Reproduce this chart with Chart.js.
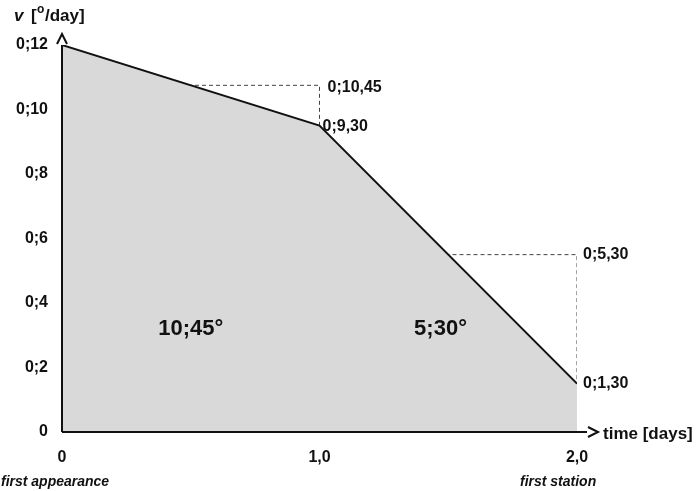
<!DOCTYPE html>
<html><head><meta charset="utf-8">
<script src="https://cdn.jsdelivr.net/npm/chart.js@4"></script>
<style>body{margin:0;background:#fff}</style>
</head><body>
<canvas id="c" width="700" height="491"></canvas>
<script>
const days = [0, 1, 2];
const velocity = [12, 9.5, 1.5];          // minutes of arc per day (0;12, 0;9,30, 0;1,30)
const meanVel = [10.75, 5.5];             // 0;10,45 and 0;5,30
const yTicks = [0, 2, 4, 6, 8, 10, 12];
const xTickLabels = {0: '0', 1: '1,0', 2: '2,0'};
const pointLabels = ['0;10,45', '0;9,30', '0;5,30', '0;1,30'];
const areaLabels = ['10;45°', '5;30°'];

const F = '"Liberation Sans", Arial, sans-serif';
const black = '#111';

const mainLine = days.map((d, i) => ({x: d, y: velocity[i]}));
const dash1 = [{x: days[0], y: meanVel[0]}, {x: days[1], y: meanVel[0]}, {x: days[1], y: velocity[1]}];
const dash2 = [{x: days[1], y: meanVel[1]}, {x: days[2], y: meanVel[1]}, {x: days[2], y: velocity[2]}];
const vert1 = [{x: days[1], y: 0}, {x: days[1], y: velocity[1]}];
const vert2 = [{x: days[2], y: 0}, {x: days[2], y: velocity[2]}];

const deco = {
  id: 'deco',
  afterDraw(chart) {
    const c = chart.ctx, xs = chart.scales.x, ys = chart.scales.y;
    const X = v => xs.getPixelForValue(v), Y = v => ys.getPixelForValue(v);
    c.save();
    c.strokeStyle = black; c.fillStyle = black; c.lineWidth = 2;
    // axis arrows
    const x0 = X(0), y0 = Y(0);
    c.beginPath(); c.moveTo(x0, y0); c.lineTo(x0, Y(12)); c.stroke();
    c.beginPath(); c.moveTo(x0 - 5, 44); c.lineTo(x0, 34); c.lineTo(x0 + 5, 44); c.stroke();
    c.beginPath(); c.moveTo(x0, y0); c.lineTo(X(2) + 10, y0); c.stroke();
    c.beginPath(); c.moveTo(588, y0 - 5); c.lineTo(598, y0); c.lineTo(588, y0 + 5); c.stroke();
    // axis titles
    c.textBaseline = 'alphabetic'; c.textAlign = 'left';
    c.font = 'italic bold 17px ' + F; c.fillText('v', 14, 21);
    c.font = 'bold 17px ' + F; c.fillText('[', 31, 21);
    c.font = 'bold 12px ' + F; c.fillText('o', 37, 13);
    c.font = 'bold 17px ' + F; c.fillText('/day]', 45, 21);
    c.fillText('time [days]', 603, 439);
    // point labels
    c.font = 'bold 16px ' + F; c.textBaseline = 'middle';
    c.fillText(pointLabels[0], X(1) + 8, Y(meanVel[0]) + 2);
    c.fillText(pointLabels[1], X(1) + 3, Y(velocity[1]) + 1);
    c.fillText(pointLabels[2], X(2) + 6, Y(meanVel[1]));
    c.fillText(pointLabels[3], X(2) + 6, Y(velocity[2]));
    // area labels
    c.font = 'bold 22px ' + F; c.textAlign = 'center';
    c.fillText(areaLabels[0], X(0.5), Y(3.2));
    c.fillText(areaLabels[1], X(1.47), Y(3.2));
    // bottom italic labels
    c.font = 'italic bold 14px ' + F; c.textAlign = 'left';
    c.fillText('first appearance', 1, 482);
    c.fillText('first station', 520, 482);
    c.restore();
  }
};

new Chart(document.getElementById('c'), {
  type: 'scatter',
  data: {
    datasets: [
      {data: mainLine, showLine: true, fill: 'origin', backgroundColor: '#d9d9d9', borderColor: black, borderWidth: 2, pointRadius: 0},
      {data: dash1, showLine: true, borderColor: '#444', borderWidth: 1, borderDash: [4, 3], pointRadius: 0},
      {data: dash2, showLine: true, borderColor: '#444', borderWidth: 1, borderDash: [4, 3], pointRadius: 0},
      {data: vert1, showLine: true, borderColor: black, borderWidth: 2, pointRadius: 0},
      {data: vert2, showLine: true, borderColor: black, borderWidth: 2, pointRadius: 0}
    ]
  },
  options: {
    responsive: false, animation: false,
    layout: {padding: {top: 45, right: 123, left: 0, bottom: 0}},
    plugins: {legend: {display: false}, tooltip: {enabled: false}},
    scales: {
      x: {type: 'linear', min: 0, max: 2,
        grid: {display: false, drawTicks: false}, border: {display: false},
        afterFit: s => { s.height = 59; },
        afterBuildTicks: s => { s.ticks = days.map(v => ({value: v})); },
        ticks: {color: black, padding: 16, font: {family: F, size: 16, weight: 'bold'}, maxRotation: 0,
          callback: v => xTickLabels[v]}},
      y: {min: 0, max: 12,
        grid: {display: false, drawTicks: false}, border: {display: false},
        afterFit: s => { s.width = 62; },
        afterBuildTicks: s => { s.ticks = yTicks.map(v => ({value: v})); },
        ticks: {color: black, padding: 14, font: {family: F, size: 16, weight: 'bold'},
          callback: v => v === 0 ? '0' : '0;' + v}}
    }
  },
  plugins: [deco]
});
</script>
</body></html>
